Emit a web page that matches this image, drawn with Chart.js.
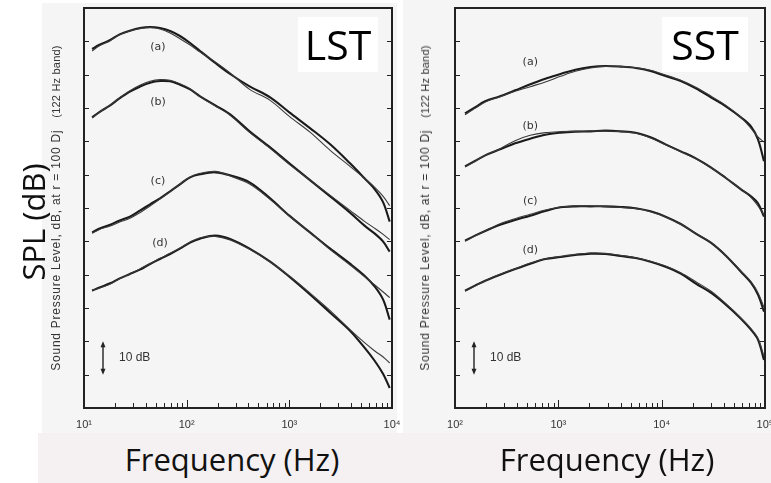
<!DOCTYPE html>
<html>
<head>
<meta charset="utf-8">
<script src="https://cdn.jsdelivr.net/npm/chart.js@4.4.1/dist/chart.umd.min.js"></script>
<style>
  html, body { margin: 0; padding: 0; background: #fff; }
  body { width: 771px; height: 483px; position: relative; overflow: hidden; font-family: "Open Sans", sans-serif; }
  .panel { position: absolute; background: #f5f5f5; }
  #leftPanel { left: 42px; top: 3px; width: 355px; height: 430px; }
  #rightPanel { left: 403px; top: 0; width: 368px; height: 433px; }
  #strip { position: absolute; left: 38px; top: 433px; width: 733px; height: 50px; background: #f5f1f3; }
  canvas { position: absolute; }
  #lstChart { left: 42px; top: 3px; }
  #sstChart { left: 403px; top: 0; }
  .rot { position: absolute; transform: translate(-50%, -50%) rotate(-90deg); white-space: nowrap; }
  .ytitle { font-family: "Liberation Sans", sans-serif; font-size: 12px; letter-spacing: 0.75px; color: #333; }
  .ytitle .band { font-size: 11px; letter-spacing: 0.2px; margin-left: 12px; }
  .big { position: absolute; transform: translate(-50%, -50%); white-space: nowrap; font-size: 31px; color: #111; }
  .tag { position: absolute; background: #fff; color: #000; font-size: 41px; line-height: 55px; text-align: center; }
</style>
</head>
<body>
<div id="strip"></div>
<div class="panel" id="leftPanel"></div>
<div class="panel" id="rightPanel"></div>
<canvas id="lstChart" width="365" height="430"></canvas>
<canvas id="sstChart" width="368" height="433"></canvas>

<div class="rot" style="left:33px; top:222px; font-size:31px; color:#111;">SPL (dB)</div>
<div class="rot ytitle" style="left:56px; top:208px;">Sound Pressure Level, dB, at r = 100 Dj<span class="band">(122 Hz band)</span></div>
<div class="rot ytitle" style="left:425px; top:208px;">Sound Pressure Level, dB, at r = 100 Dj<span class="band">(122 Hz band)</span></div>
<div class="big" style="left:232px; top:459px;">Frequency (Hz)</div>
<div class="big" style="left:607px; top:459px;">Frequency (Hz)</div>
<div class="tag" style="left:298px; top:17px; width:80px; height:55px;">LST</div>
<div class="tag" style="left:662px; top:17px; width:86px; height:55px;">SST</div>

<script>
// LST spectra: frequency (Hz) and level (dB, arbitrary offset per curve)
const lstFreq = [12, 14, 18, 22, 28, 35, 44, 55, 69, 86, 108, 135, 190, 265, 410, 650, 1000, 1600, 2500, 3900, 5400, 6800, 8200, 9500];
const lstA = [107.7, 108.9, 110.4, 112.0, 113.2, 114.0, 114.3, 114.0, 113.1, 111.6, 109.5, 107.1, 103.5, 100.2, 96.5, 93.2, 88.7, 83.9, 79.1, 73.4, 68.9, 65.6, 61.7, 55.9];
const lstAFit = [107.1, 108.6, 110.2, 111.9, 113.1, 113.8, 114.1, 113.7, 112.5, 110.8, 108.9, 106.8, 103.8, 100.5, 95.6, 92.3, 87.5, 82.7, 77.3, 72.5, 68.9, 66.2, 63.5, 60.7];
const lstB = [87.2, 88.7, 90.8, 92.8, 94.9, 96.4, 97.6, 98.1, 98.0, 97.0, 95.6, 93.5, 90.8, 88.1, 83.0, 78.2, 73.4, 68.3, 63.5, 58.6, 54.7, 52.3, 49.9, 46.9];
const lstBFit = [87.0, 88.6, 90.9, 93.0, 95.2, 96.8, 98.0, 98.5, 98.3, 97.3, 95.8, 93.4, 90.6, 87.8, 82.7, 77.9, 73.1, 68.3, 63.8, 59.3, 56.0, 53.9, 52.1, 50.5];
const lstC = [52.6, 53.8, 55.0, 56.2, 57.4, 59.2, 61.1, 62.9, 65.0, 67.1, 69.2, 70.1, 70.7, 69.8, 67.7, 62.9, 57.7, 52.6, 47.8, 43.3, 39.7, 36.4, 32.5, 26.5];
const lstCFit = [52.4, 53.5, 54.6, 55.7, 56.9, 58.6, 60.6, 62.7, 64.9, 67.2, 69.3, 70.4, 71.0, 69.6, 67.2, 62.6, 57.6, 52.6, 47.5, 42.9, 39.4, 36.9, 34.8, 33.1];
const lstD = [35.2, 36.1, 37.4, 38.8, 40.2, 41.5, 43.2, 44.7, 46.2, 47.8, 49.6, 50.8, 51.7, 50.7, 47.8, 43.9, 39.4, 34.0, 28.6, 23.2, 18.1, 14.1, 10.2, 6.0];
const lstDFit = [35.4, 35.9, 37.2, 38.7, 40.2, 41.7, 43.3, 44.9, 46.4, 48.0, 49.8, 51.1, 51.5, 50.4, 47.6, 43.8, 39.6, 34.4, 29.2, 23.5, 19.6, 17.1, 15.3, 13.5];

// SST spectra
const sstFreq = [125, 156, 196, 273, 382, 535, 748, 1050, 1460, 2050, 2860, 4000, 5600, 7800, 10900, 15300, 21400, 29900, 41800, 58500, 73100, 85500, 97800];
const sstA = [88.4, 90.2, 92.0, 93.5, 95.3, 97.1, 98.8, 100.2, 101.5, 102.3, 102.6, 102.4, 102.0, 101.1, 99.6, 98.1, 95.9, 93.2, 90.5, 87.2, 84.5, 80.6, 74.0];
const sstAFit = [88.0, 89.9, 91.8, 93.4, 95.0, 96.4, 97.8, 99.5, 101.0, 102.0, 102.5, 102.5, 102.1, 101.3, 99.9, 98.3, 96.2, 93.6, 90.8, 87.2, 83.9, 81.3, 79.8];
const sstB = [72.5, 74.1, 75.8, 77.6, 79.4, 80.8, 82.0, 82.6, 82.9, 83.0, 83.2, 83.0, 82.6, 81.2, 79.1, 77.0, 74.9, 72.2, 69.0, 65.6, 63.5, 61.4, 57.4];
const sstBFit = [72.3, 74.0, 75.8, 77.8, 80.2, 81.8, 82.6, 82.9, 83.0, 83.1, 83.1, 82.9, 82.4, 81.0, 79.0, 76.9, 74.8, 72.1, 69.0, 65.7, 63.2, 60.6, 57.9];
const sstC = [50.2, 51.7, 53.1, 55.0, 56.4, 57.7, 59.1, 60.2, 60.5, 60.5, 60.5, 60.3, 59.9, 59.0, 57.4, 55.2, 52.3, 49.6, 45.7, 40.9, 37.6, 34.0, 28.9];
const sstCFit = [50.0, 51.6, 53.2, 55.3, 56.8, 58.1, 59.4, 60.3, 60.6, 60.6, 60.4, 60.2, 59.8, 58.9, 57.3, 55.1, 52.4, 49.7, 45.8, 41.1, 37.9, 34.6, 30.2];
const sstD = [35.2, 36.7, 38.2, 40.0, 41.7, 43.3, 44.7, 45.3, 45.9, 46.3, 46.2, 45.6, 45.0, 43.9, 42.4, 40.3, 37.3, 34.6, 31.0, 26.8, 23.5, 20.5, 14.4];
const sstDFit = [35.0, 36.6, 38.2, 40.1, 41.8, 43.5, 44.8, 45.5, 46.1, 46.5, 46.4, 45.8, 45.1, 44.0, 42.6, 40.6, 37.9, 35.1, 31.3, 27.0, 23.8, 20.9, 15.5];

const curveNames = ['(a)', '(b)', '(c)', '(d)'];
const lstDecades = [10, 100, 1000, 10000];
const lstTickLabels = ['10\u00b9', '10\u00b2', '10\u00b3', '10\u2074'];
const sstDecades = [100, 1000, 10000, 100000];
const sstTickLabels = ['10\u00b2', '10\u00b3', '10\u2074', '10\u2075'];

// where the (a)..(d) tags sit, in axis units [Hz, dB]
const lstTagAt = [[52.5, 108.3], [52.5, 91.7], [52.5, 68.0], [55, 49.6]];
const sstTagAt = [[535, 103.8], [535, 84.5], [535, 62.0], [535, 47.5]];

function pts(freq, vals) {
  return freq.map((f, i) => ({ x: f, y: vals[i] }));
}

function spectra(freq, pairs) {
  const sets = [];
  pairs.forEach(([meas, fit]) => {
    sets.push({ data: pts(freq, fit), borderColor: '#3a3a3a', borderWidth: 1.1, pointRadius: 0, tension: 0.35 });
    sets.push({ data: pts(freq, meas), borderColor: '#1a1a1a', borderWidth: 2.1, pointRadius: 0, tension: 0.35 });
  });
  return sets;
}

// frame, inward ticks, curve tags and the 10 dB scale bar
const decorations = {
  id: 'decorations',
  afterDatasetsDraw(chart, args, opts) {
    const { ctx, chartArea: a, scales: { x, y } } = chart;
    ctx.save();
    ctx.strokeStyle = '#222';
    ctx.fillStyle = '#222';

    ctx.lineWidth = 1;
    for (let d = opts.decades[0]; d < opts.decades[opts.decades.length - 1]; d *= 10) {
      for (let k = 1; k <= 9; k++) {
        const px = Math.round(x.getPixelForValue(d * k)) + 0.5;
        const len = k === 1 ? 8 : 5;
        ctx.beginPath();
        ctx.moveTo(px, a.bottom);
        ctx.lineTo(px, a.bottom - len);
        ctx.stroke();
      }
    }
    for (let v = 10; v < 120; v += 10) {
      const py = Math.round(y.getPixelForValue(v)) + 0.5;
      ctx.beginPath();
      ctx.moveTo(a.left, py); ctx.lineTo(a.left + 5, py);
      ctx.moveTo(a.right, py); ctx.lineTo(a.right - 5, py);
      ctx.stroke();
    }

    ctx.lineWidth = 2;
    ctx.strokeRect(a.left, a.top, a.right - a.left, a.bottom - a.top);

    ctx.font = '11px "DejaVu Sans", sans-serif';
    ctx.fillStyle = '#333';
    ctx.textAlign = 'center';
    ctx.textBaseline = 'middle';
    opts.tags.forEach(([f, v], i) => {
      ctx.fillText(curveNames[i], x.getPixelForValue(f), y.getPixelForValue(v));
    });

    // 10 dB scale bar
    const bx = a.left + 19;
    const y1 = y.getPixelForValue(20), y0 = y.getPixelForValue(10);
    ctx.strokeStyle = '#222';
    ctx.lineWidth = 1.4;
    ctx.beginPath();
    ctx.moveTo(bx, y1 + 3); ctx.lineTo(bx, y0 - 3);
    ctx.stroke();
    ctx.fillStyle = '#222';
    ctx.beginPath();
    ctx.moveTo(bx, y1); ctx.lineTo(bx - 2.5, y1 + 6); ctx.lineTo(bx + 2.5, y1 + 6); ctx.closePath();
    ctx.moveTo(bx, y0); ctx.lineTo(bx - 2.5, y0 - 6); ctx.lineTo(bx + 2.5, y0 - 6); ctx.closePath();
    ctx.fill();
    ctx.font = '12px "Liberation Sans", sans-serif';
    ctx.fillStyle = '#333';
    ctx.textAlign = 'left';
    ctx.fillText('10 dB', a.left + 35, (y0 + y1) / 2);
    ctx.restore();
  }
};

function makeChart(id, freq, pairs, decades, tickLabels, tags, pad) {
  return new Chart(document.getElementById(id), {
    type: 'line',
    data: { datasets: spectra(freq, pairs) },
    options: {
      responsive: false,
      animation: false,
      layout: { padding: pad },
      plugins: {
        legend: { display: false },
        tooltip: { enabled: false },
        decorations: { decades: decades, tags: tags }
      },
      scales: {
        x: {
          type: 'logarithmic',
          min: decades[0],
          max: decades[decades.length - 1],
          grid: { display: false, drawTicks: false },
          border: { display: false },
          afterBuildTicks: s => { s.ticks = decades.map(v => ({ value: v })); },
          afterFit: s => {
            s.height = 25;
            // end labels may hang past the frame; don't let them shrink the plot
            s.paddingLeft = 0;
            s.paddingRight = 0;
          },
          ticks: {
            autoSkip: false,
            maxRotation: 0,
            padding: 10,
            color: '#333',
            font: { family: '"Liberation Sans", "DejaVu Sans", sans-serif', size: 11 },
            callback: (v, i) => tickLabels[i]
          }
        },
        y: { type: 'linear', display: false, min: 0, max: 120 }
      }
    },
    plugins: [decorations]
  });
}

makeChart('lstChart', lstFreq,
  [[lstA, lstAFit], [lstB, lstBFit], [lstC, lstCFit], [lstD, lstDFit]],
  lstDecades, lstTickLabels, lstTagAt, { left: 42, right: 15, top: 5, bottom: 0 });

makeChart('sstChart', sstFreq,
  [[sstA, sstAFit], [sstB, sstBFit], [sstC, sstCFit], [sstD, sstDFit]],
  sstDecades, sstTickLabels, sstTagAt, { left: 52, right: 6, top: 8, bottom: 0 });
</script>
</body>
</html>
